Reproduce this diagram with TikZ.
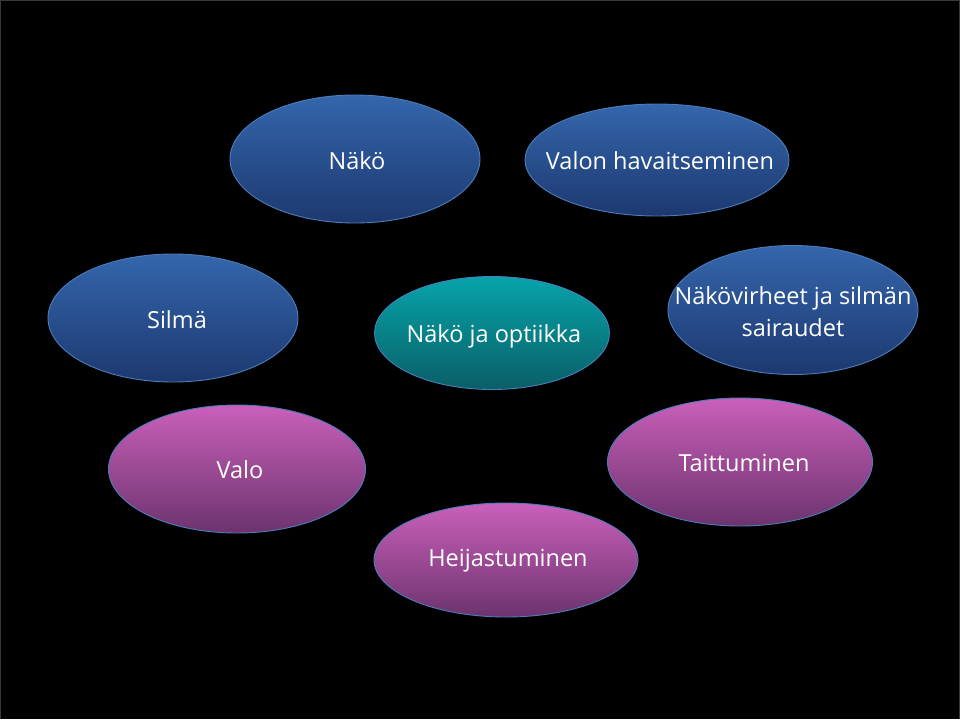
\documentclass[tikz,border=0pt]{standalone}
\usepackage{fontspec}
\setmainfont{Open Sans}
\usetikzlibrary{shapes.geometric}
\definecolor{bluetop}{HTML}{3466AC}
\definecolor{bluebot}{HTML}{1D3870}
\definecolor{tealtop}{HTML}{06A4AA}
\definecolor{tealbot}{HTML}{0A5E66}
\definecolor{pinktop}{HTML}{CA60BA}
\definecolor{pinkbot}{HTML}{6C336E}
\definecolor{edgeblue}{HTML}{4A7EBB}
\tikzset{
  bubble/.style={ellipse, draw=edgeblue, line width=0.9pt, inner sep=0pt},
  bluebub/.style={bubble, top color=bluetop, bottom color=bluebot},
  tealbub/.style={bubble, top color=tealtop, bottom color=tealbot},
  pinkbub/.style={bubble, top color=pinktop, bottom color=pinkbot},
  label/.style={text=white, inner sep=0pt, font=\fontsize{23.5}{32}\selectfont, align=center},
}
\begin{document}
\begin{tikzpicture}[x=1pt,y=-1pt]
\fill[black] (0,0) rectangle (960,719);
\draw[gray!45!black, line width=1.2pt] (0.6,719) -- (0.6,0.6) -- (959.4,0.6) -- (959.4,719);
\useasboundingbox (0,0) rectangle (960,719);
\node[bluebub, minimum width=250pt, minimum height=128pt] (nako) at (355,159) {};
\node[label] (nakot) at (357,161) {Näkö};
\node[bluebub, minimum width=264pt, minimum height=112pt] (valon) at (657,160) {};
\node[label] (valont) at (660,161) {Valon havaitseminen};
\node[bluebub, minimum width=250pt, minimum height=128pt] (silma) at (173,318) {};
\node[label] (silmat) at (177,320) {Silmä};
\node[tealbub, minimum width=235pt, minimum height=113pt] (optiikka) at (492,333) {};
\node[label] (optiikkat) at (494,336) {Näkö ja optiikka};
\node[bluebub, minimum width=250pt, minimum height=129pt] (virheet) at (793,310) {};
\node[label] (virheett) at (793,312) {Näkövirheet ja silmän\\sairaudet};
\node[pinkbub, minimum width=257pt, minimum height=128pt] (valo) at (237,469) {};
\node[label] (valot) at (240,470) {Valo};
\node[pinkbub, minimum width=265pt, minimum height=128pt] (taitt) at (740,462) {};
\node[label] (taittt) at (744,463) {Taittuminen};
\node[pinkbub, minimum width=264pt, minimum height=114pt] (heij) at (506,560) {};
\node[label] (heijt) at (508,561) {Heijastuminen};
\end{tikzpicture}
\end{document}
